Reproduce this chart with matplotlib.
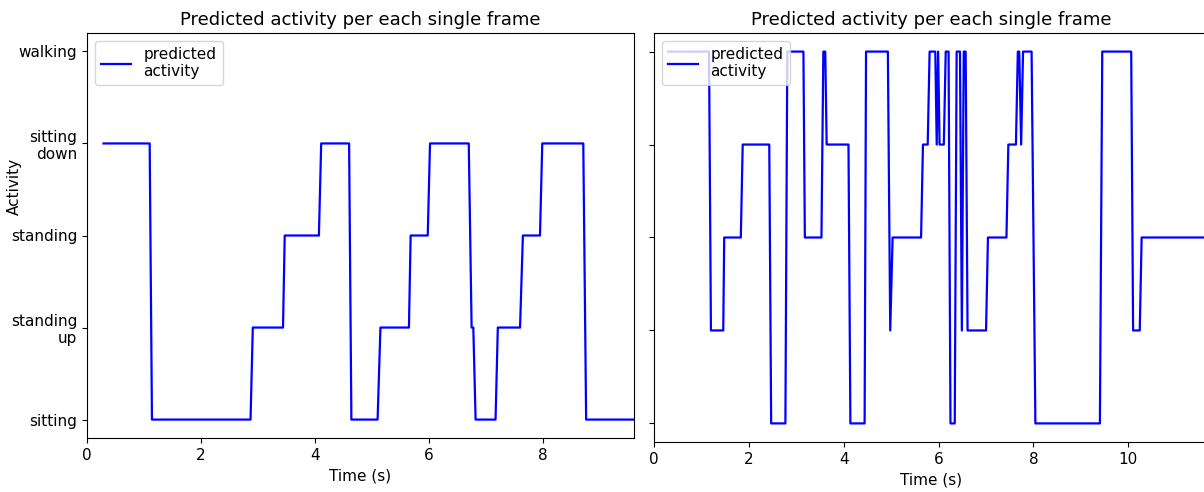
import matplotlib
matplotlib.use("Agg")
import matplotlib.pyplot as plt

activity_labels = ["sitting", "standing\nup", "standing", "sitting\ndown", "walking"]

# Left panel: breakpoints (time in s, activity index)
left_times = [0.29, 1.10, 1.14, 2.87, 2.91, 3.44, 3.47, 4.07, 4.11, 4.60, 4.64,
              5.10, 5.15, 5.65, 5.68, 5.98, 6.02, 6.70, 6.75, 6.78, 6.82,
              7.17, 7.21, 7.60, 7.65, 7.95, 7.99, 8.71, 8.76, 9.70]
left_acts = [3, 3, 0, 0, 1, 1, 2, 2, 3, 3, 0,
             0, 1, 1, 2, 2, 3, 3, 1, 1, 0,
             0, 1, 1, 2, 2, 3, 3, 0, 0]

# Right panel: breakpoints (time in s, activity index)
right_times = [0.30, 1.16, 1.20, 1.46, 1.48, 1.83, 1.87, 2.43, 2.47, 2.77, 2.81,
               3.15, 3.18, 3.53, 3.57, 3.61, 3.64, 4.10, 4.14, 4.44, 4.47,
               4.93, 4.98, 5.03, 5.63, 5.67, 5.77, 5.81, 5.93, 5.96, 5.99,
               6.02, 6.11, 6.15, 6.21, 6.25, 6.34, 6.38, 6.45, 6.49, 6.53,
               6.57, 6.61, 7.00, 7.04, 7.43, 7.47, 7.63, 7.67, 7.70, 7.74,
               7.78, 7.96, 8.04, 9.40, 9.45, 10.06, 10.10, 10.24, 10.28, 11.80]
right_acts = [4, 4, 1, 1, 2, 2, 3, 3, 0, 0, 4,
              4, 2, 2, 4, 4, 3, 3, 0, 0, 4,
              4, 1, 2, 2, 3, 3, 4, 4, 3, 4,
              3, 3, 4, 4, 0, 0, 4, 4, 1, 4,
              4, 1, 1, 2, 2, 3, 3, 4, 4, 3,
              4, 4, 0, 0, 4, 4, 1, 1, 2, 2]

title = "Predicted activity per each single frame"
legend_label = "predicted\nactivity"

W, H = 1204, 492
fig = plt.figure(figsize=(W / 100, H / 100), dpi=100)

ax1 = fig.add_axes([87 / W, 1 - 438 / H, (634 - 87) / W, (438 - 33) / H])
ax2 = fig.add_axes([654 / W, 1 - 442 / H, (1209 - 654) / W, (442 - 33) / H])

ax1.plot(left_times, left_acts, color="#0000ff", lw=1.6, label=legend_label)
ax2.plot(right_times, right_acts, color="#0000ff", lw=1.6, label=legend_label)

for ax in (ax1, ax2):
    ax.set_yticks(range(len(activity_labels)))
    ax.set_ylim(-0.2, 4.2)
    ax.set_title(title, fontsize=13)
    ax.set_xlabel("Time (s)", fontsize=11)
    ax.tick_params(labelsize=11)
    ax.legend(loc="upper left", fontsize=11, handlelength=2.0)

ax1.set_yticklabels(activity_labels)
ax2.set_yticklabels([])
ax1.set_ylabel("Activity", fontsize=11)
ax1.yaxis.set_label_coords(-0.119, 0.622)
ax1.set_xlim(0, 9.6)
ax2.set_xlim(0, 11.7)
ax1.set_xticks([0, 2, 4, 6, 8])
ax2.set_xticks([0, 2, 4, 6, 8, 10])

fig.savefig("out.png", dpi=100)
